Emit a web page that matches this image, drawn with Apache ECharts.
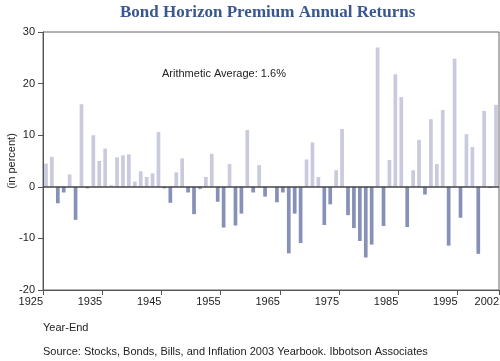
<!DOCTYPE html>
<html>
<head>
<meta charset="utf-8">
<script src="https://cdn.jsdelivr.net/npm/echarts@6/dist/echarts.min.js"></script>
<style>html,body{margin:0;padding:0;background:#fff}#c{width:500px;height:361px}</style>
</head>
<body>
<div id="c"></div>
<script>
var years = [];
for (var y = 1926; y <= 2002; y++) years.push(y);
var premium = [
  4.5, 5.8, -3.2, -1.1, 2.4, -6.4, 16.0, -0.3, 10.0, 5.0,
  7.4, 0.3, 5.7, 6.1, 6.3, 1.0, 3.0, 1.9, 2.6, 10.6,
  -0.3, -3.1, 2.8, 5.5, -1.1, -5.3, -0.4, 1.9, 6.4, -2.9,
  -7.9, 4.4, -7.5, -5.2, 11.0, -1.1, 4.2, -1.9, 0.0, -3.0,
  -1.1, -12.9, -5.2, -10.9, 5.3, 8.6, 1.9, -7.4, -3.4, 3.2,
  11.2, -5.5, -8.0, -10.5, -13.7, -11.2, 27.0, -7.6, 5.2, 21.8,
  17.4, -7.8, 3.2, 9.1, -1.5, 13.1, 4.4, 14.9, -11.4, 24.8,
  -6.0, 10.2, 7.7, -13.0, 14.7, -0.2, 15.9
];
var yTicks = { min: -20, max: 30, step: 10 };
var xTicks = { min: 1925, max: 2002, step: 10 };
var titleText = 'Bond Horizon Premium Annual Returns';
var avgText = 'Arithmetic Average: 1.6%';
var xName = 'Year-End';
var yName = '(in percent)';
var sourceText = 'Source: Stocks, Bonds, Bills, and Inflation 2003 Yearbook. Ibbotson Associates';

var posColor = '#c9cadd';
var negColor = '#8790b6';
var data = years.map(function (yr, i) { return [yr - 0.5, premium[i]]; });

var chart = echarts.init(document.getElementById('c'), null, { renderer: 'canvas' });
chart.setOption({
  animation: false,
  backgroundColor: '#fff',
  title: {
    text: titleText, left: 115, top: -1,
    textStyle: { fontFamily: 'Liberation Serif', fontWeight: 'bold', fontSize: 17, color: '#3b5790' }
  },
  grid: { left: 43, right: 1, top: 32, bottom: 71, show: true, borderColor: '#666', borderWidth: 1,
    containLabel: false, outerBoundsMode: 'none' },
  xAxis: {
    type: 'value', min: xTicks.min, max: xTicks.max, interval: xTicks.step,
    axisLine: { show: true, onZero: false, lineStyle: { color: '#555', width: 1 } },
    axisTick: { show: true, length: 5, lineStyle: { color: '#555' } },
    axisLabel: { align: 'right', margin: 6, fontSize: 11, color: '#222', fontFamily: 'Liberation Sans',
      showMinLabel: true, showMaxLabel: true, formatter: function (v) { return String(Math.round(v)); } },
    splitLine: { show: false }
  },
  yAxis: {
    type: 'value', min: yTicks.min, max: yTicks.max, interval: yTicks.step,
    name: yName, nameLocation: 'middle', nameGap: 26, nameRotate: 90, nameMoveOverlap: false,
    nameTextStyle: { fontSize: 11, color: '#222', fontFamily: 'Liberation Sans' },
    axisLine: { show: true, onZero: false, lineStyle: { color: '#555', width: 1 } },
    axisTick: { show: true, length: 5, lineStyle: { color: '#555' } },
    axisLabel: { margin: 8, fontSize: 11, color: '#222', fontFamily: 'Liberation Sans' },
    splitLine: { show: false }
  },
  graphic: [
    { type: 'text', left: 162, top: 68, style: { text: avgText, fontSize: 11, fill: '#222', fontFamily: 'Liberation Sans' } },
    { type: 'text', left: 43, top: 322, style: { text: xName, fontSize: 11, fill: '#222', fontFamily: 'Liberation Sans' } },
    { type: 'text', left: 43, top: 346, style: { text: sourceText, fontSize: 11, fill: '#222', fontFamily: 'Liberation Sans' } }
  ],
  series: [{
    type: 'bar',
    data: data,
    barWidth: 3.7,
    itemStyle: { color: function (p) { return p.value[1] >= 0 ? posColor : negColor; } },
    markLine: {
      silent: true, symbol: 'none', label: { show: false },
      lineStyle: { color: '#444', width: 1.5, type: 'solid' },
      data: [{ yAxis: 0 }]
    }
  }]
});
</script>
</body>
</html>
